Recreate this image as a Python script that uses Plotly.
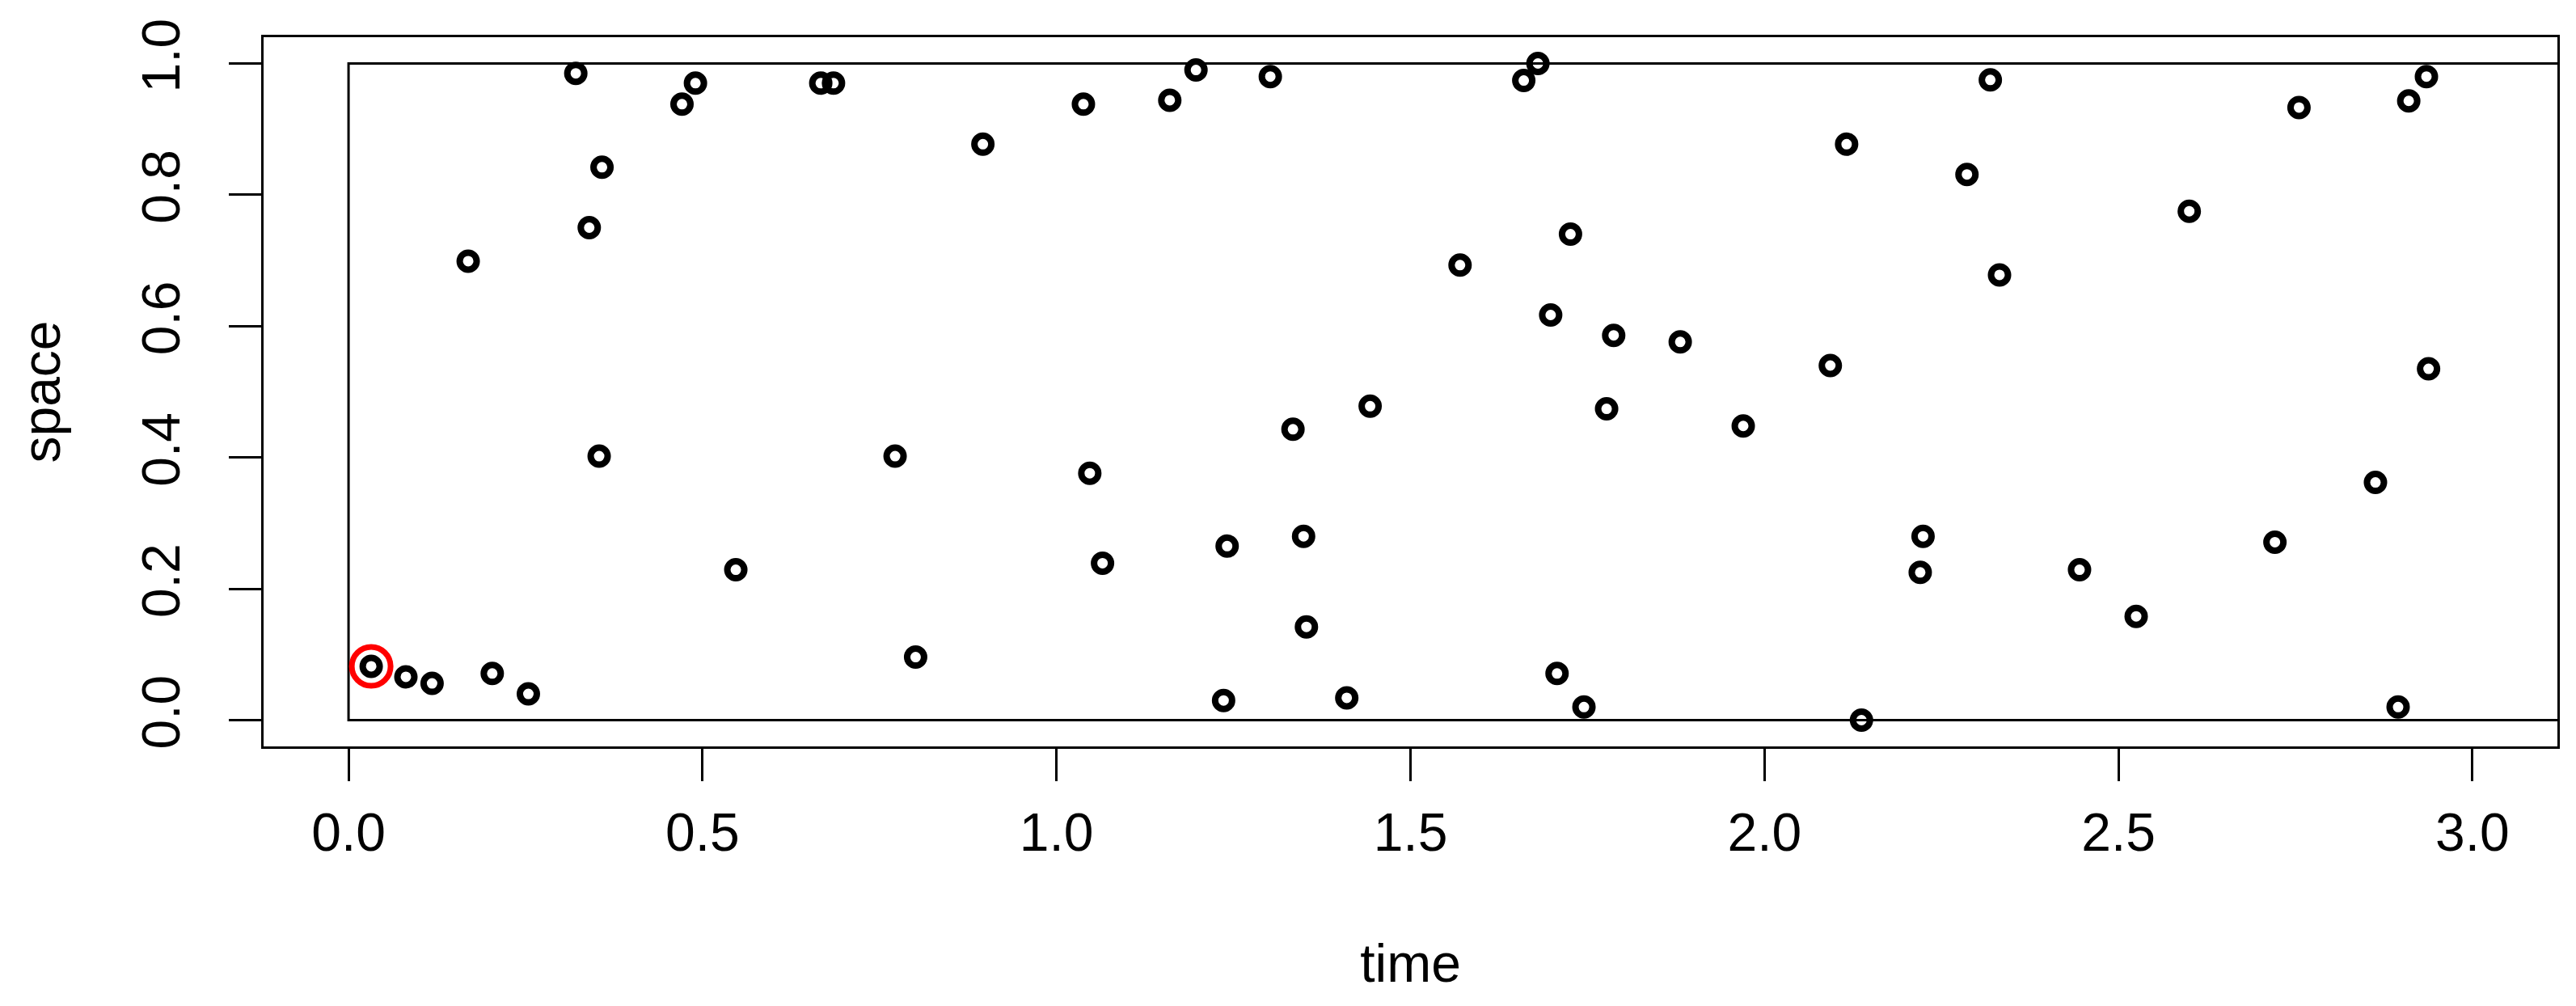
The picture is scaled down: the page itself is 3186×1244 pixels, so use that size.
import plotly.graph_objects as go

# ---- data ----
time = [0.032, 0.081, 0.118, 0.203, 0.254, 0.169, 0.321, 0.340, 0.358, 0.354,
        0.471, 0.490, 0.547, 0.667, 0.685,
        0.772, 0.801, 0.896, 1.038, 1.047, 1.065, 1.160, 1.197, 1.302, 1.236,
        1.241, 1.334, 1.349, 1.353, 1.410, 1.443, 1.570, 1.660, 1.680, 1.698,
        1.707, 1.726, 1.745, 1.777, 1.787, 1.881,
        1.970, 2.093, 2.116, 2.137, 2.220, 2.224, 2.286, 2.319, 2.332, 2.445,
        2.525, 2.600, 2.721, 2.755, 2.863, 2.895, 2.910, 2.935, 2.938]
space = [0.082, 0.066, 0.056, 0.071, 0.040, 0.699, 0.985, 0.750, 0.842, 0.402,
         0.938, 0.970, 0.229, 0.970, 0.970,
         0.402, 0.096, 0.877, 0.938, 0.376, 0.239, 0.944, 0.990, 0.980, 0.030,
         0.265, 0.443, 0.280, 0.142, 0.034, 0.478, 0.693, 0.974, 1.000, 0.617,
         0.071, 0.740, 0.020, 0.474, 0.586, 0.576,
         0.448, 0.540, 0.877, 0.000, 0.225, 0.280, 0.831, 0.975, 0.678, 0.229,
         0.158, 0.775, 0.271, 0.933, 0.362, 0.020, 0.943, 0.980, 0.535]
highlight_index = 0

# observation window (rectangle drawn in the plot)
window_time = [3.5, 0.0, 0.0, 3.5]
window_space = [1.0, 1.0, 0.0, 0.0]

x_ticks = [0.0, 0.5, 1.0, 1.5, 2.0, 2.5, 3.0]
x_tick_labels = ["0.0", "0.5", "1.0", "1.5", "2.0", "2.5", "3.0"]
y_ticks = [0.0, 0.2, 0.4, 0.6, 0.8, 1.0]
y_tick_labels = ["0.0", "0.2", "0.4", "0.6", "0.8", "1.0"]

FONT = "Liberation Sans, Arial, sans-serif"

fig = go.Figure()

fig.add_trace(go.Scatter(
    x=window_time, y=window_space, mode="lines",
    line=dict(color="black", width=3), hoverinfo="skip", showlegend=False,
))

fig.add_trace(go.Scatter(
    x=time, y=space, mode="markers",
    marker=dict(symbol="circle-open", size=21, color="black",
                line=dict(width=8, color="black")),
    showlegend=False,
))

fig.add_trace(go.Scatter(
    x=[time[highlight_index]], y=[space[highlight_index]], mode="markers",
    marker=dict(symbol="circle-open", size=48, color="#FF0000",
                line=dict(width=7, color="#FF0000")),
    showlegend=False,
))

axis_common = dict(
    showgrid=False, zeroline=False,
    showline=True, mirror=True, linecolor="black", linewidth=3,
    ticks="outside", ticklen=40, tickwidth=3, tickcolor="black",
    tickfont=dict(family=FONT, size=66, color="black"),
)

fig.update_layout(
    width=3186, height=1244,
    margin=dict(l=318, r=31, t=38, b=329),
    paper_bgcolor="white", plot_bgcolor="white",
    font=dict(family=FONT, size=66, color="black"),
    xaxis=dict(
        range=[-0.12, 3.12], tickvals=x_ticks, ticktext=x_tick_labels,
        ticklabelstandoff=7,
        title=dict(text="time", font=dict(family=FONT, size=66, color="black"),
                   standoff=103),
        **axis_common,
    ),
    yaxis=dict(
        range=[-0.04, 1.04], tickvals=y_ticks, ticktext=y_tick_labels,
        tickangle=-90, ticklabelstandoff=35,
        title=dict(text="space", font=dict(family=FONT, size=66, color="black"),
                   standoff=66),
        **axis_common,
    ),
)

fig.write_html("out.html")
